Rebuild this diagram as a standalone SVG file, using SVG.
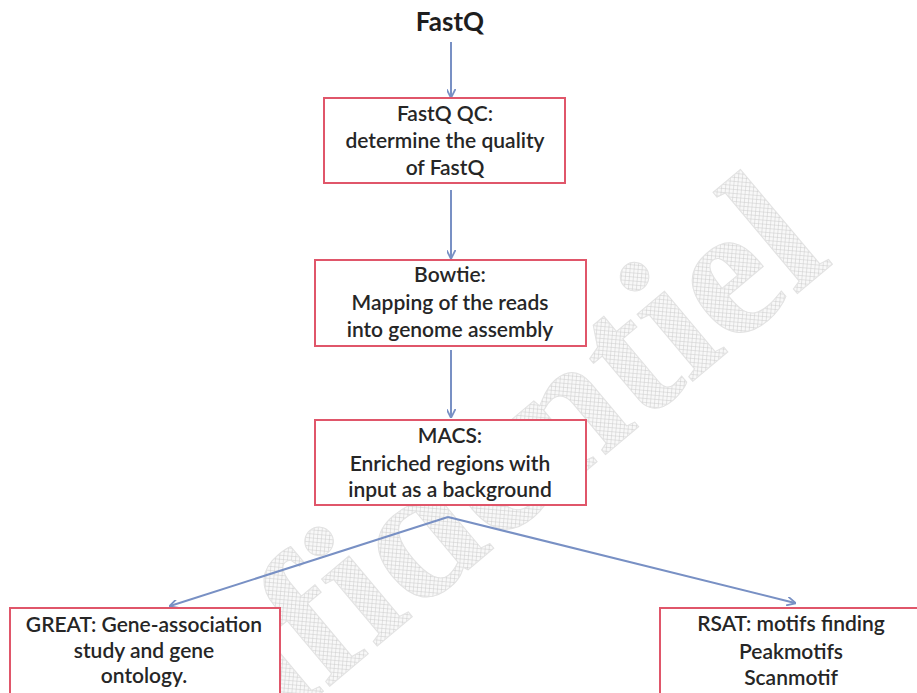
<svg xmlns="http://www.w3.org/2000/svg" width="917" height="693" viewBox="0 0 917 693">
<defs>
  <pattern id="hatch" width="4" height="4" patternUnits="userSpaceOnUse" patternTransform="rotate(45)">
    <rect width="4" height="4" fill="#f8f8f8"/>
    <path d="M0,0 H4 M0,0 V4" stroke="#cbcbcb" stroke-width="1"/>
  </pattern>
  <marker id="arr" viewBox="0 0 10 10" refX="9" refY="5" markerWidth="9" markerHeight="9" markerUnits="userSpaceOnUse" orient="auto">
    <path d="M0,0 L10,5 L0,10" fill="none" stroke="#7890c4" stroke-width="2"/>
  </marker>
</defs>
<style>
  .box { fill: #ffffff; stroke: #e0566a; stroke-width: 2; }
  .t { font-family: Lato, "Open Sans", sans-serif; font-size: 21px; fill: #262626; text-anchor: middle; font-weight: 600; }
  .title { font-family: Lato, "Open Sans", sans-serif; font-size: 26px; fill: #1e1e1e; text-anchor: middle; font-weight: bold; }
  .c { fill: none; stroke: #7890c4; stroke-width: 2; marker-end: url(#arr); }
  .wm { font-family: "Liberation Serif", serif; font-size: 190px; font-weight: bold; fill: url(#hatch); stroke: #e2e2e2; stroke-width: 1; text-anchor: end; }
</style>
<rect width="917" height="693" fill="#ffffff"/>
<g id="watermark">
  <text class="wm" transform="translate(835,262) rotate(-40)">Confidentiel</text>
</g>
<g id="connectors">
  <line class="c" x1="451" y1="42" x2="451" y2="97"/>
  <line class="c" x1="451" y1="190" x2="451" y2="258"/>
  <line class="c" x1="451" y1="350" x2="451" y2="417"/>
  <line class="c" x1="448" y1="517" x2="170" y2="606"/>
  <line class="c" x1="448" y1="517" x2="795" y2="603"/>
</g>
<g id="fastq">
  <text class="title" x="450" y="31">FastQ</text>
</g>
<g id="fastqc">
  <rect class="box" x="324" y="98" width="241" height="85"/>
  <text class="t" x="445" y="121">FastQ QC:</text>
  <text class="t" x="445" y="148">determine the quality</text>
  <text class="t" x="445" y="175">of FastQ</text>
</g>
<g id="bowtie">
  <rect class="box" x="315" y="260" width="271" height="86"/>
  <text class="t" x="450" y="282">Bowtie:</text>
  <text class="t" x="450" y="310">Mapping of the reads</text>
  <text class="t" x="450" y="337">into genome assembly</text>
</g>
<g id="macs">
  <rect class="box" x="315" y="420" width="271" height="85"/>
  <text class="t" x="450" y="443">MACS:</text>
  <text class="t" x="450" y="471">Enriched regions with</text>
  <text class="t" x="450" y="497">input as a background</text>
</g>
<g id="great">
  <rect class="box" x="10" y="608" width="270" height="100"/>
  <text class="t" x="144" y="632">GREAT: Gene-association</text>
  <text class="t" x="144" y="658">study  and gene</text>
  <text class="t" x="144" y="683">ontology.</text>
</g>
<g id="rsat">
  <rect class="box" x="660" y="608" width="270" height="100"/>
  <text class="t" x="791" y="631">RSAT: motifs finding</text>
  <text class="t" x="791" y="659">Peakmotifs</text>
  <text class="t" x="791" y="685">Scanmotif</text>
</g>
</svg>
